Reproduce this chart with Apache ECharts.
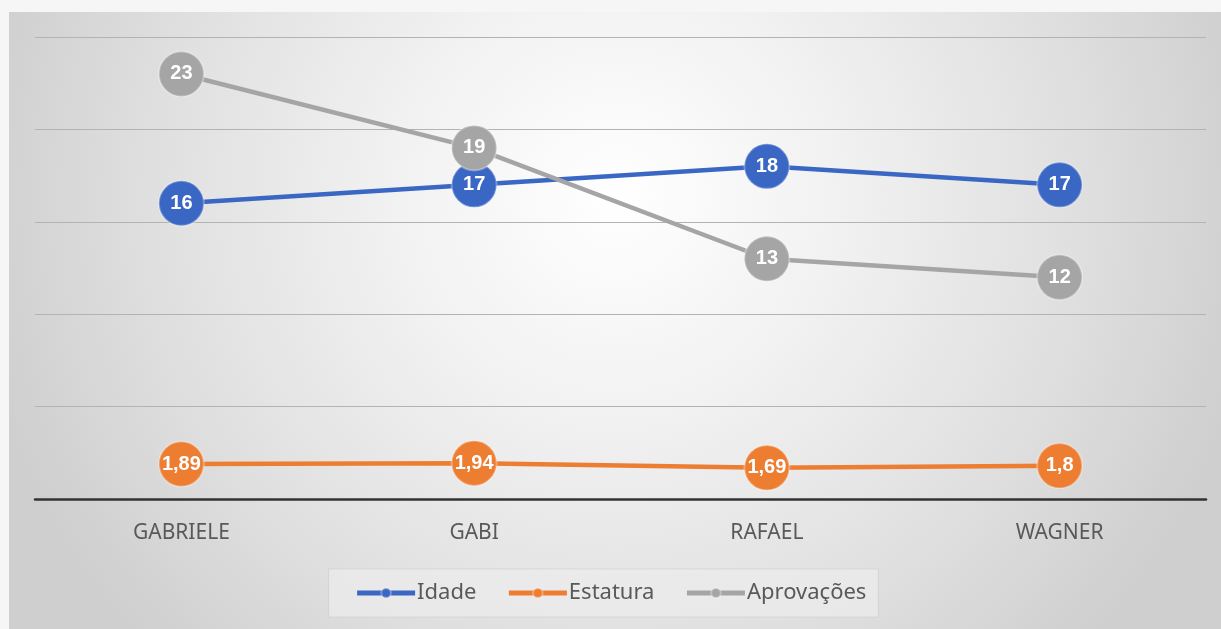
<!DOCTYPE html>
<html>
<head>
<meta charset="utf-8">
<script src="https://cdn.jsdelivr.net/npm/echarts@6/dist/echarts.min.js"></script>
<style>html,body{margin:0;padding:0;background:#f6f6f6;}#c{width:1221px;height:629px;}</style>
</head>
<body>
<div id="c"></div>
<script>
const categories = ['GABRIELE', 'GABI', 'RAFAEL', 'WAGNER'];
const idade = [16, 17, 18, 17];
const estatura = [1.89, 1.94, 1.69, 1.8];
const aprovacoes = [23, 19, 13, 12];
const seriesNames = ['Idade', 'Estatura', 'Aprovações'];
const yTicks = { min: 0, max: 25, interval: 5 };

const chart = echarts.init(document.getElementById('c'));
const fmt = p => String(p.value).replace('.', ',');
function mk(name, data, color) {
  return {
    name: name, type: 'line', data: data,
    symbol: 'circle', symbolSize: 45,
    lineStyle: { color: color, width: 4.5 },
    itemStyle: { color: color, borderColor: 'rgba(255,255,255,0.3)', borderWidth: 2 },
    label: { show: true, position: 'inside', color: '#ffffff', fontSize: 20, fontWeight: 'bold',
      fontFamily: 'Liberation Sans', formatter: fmt },
    emphasis: { disabled: true }
  };
}
chart.setOption({
  animation: false,
  backgroundColor: '#f6f6f6',
  graphic: [{
    type: 'rect', z: -10, silent: true,
    shape: { x: 9, y: 12, width: 1212, height: 617 },
    style: { fill: { type: 'radial', x: 0.5, y: 0.3, r: 1.05,
      colorStops: [{ offset: 0, color: '#ffffff' }, { offset: 0.35, color: '#f1f1f1' },
                   { offset: 0.7, color: '#e0e0e0' }, { offset: 1, color: '#cfcfcf' }] } }
  }],
  grid: { left: 35, right: 15, top: 37, bottom: 130 },
  legend: {
    data: seriesNames, bottom: 12, left: 'center',
    itemWidth: 58, itemHeight: 12, itemGap: 30,
    padding: [13, 12, 13, 26],
    lineStyle: { width: 5 },
    backgroundColor: 'rgba(236,236,236,0.7)',
    borderColor: 'rgba(200,200,200,0.5)', borderWidth: 1,
    textStyle: { color: '#595959', fontSize: 22, fontFamily: 'Noto Sans', padding: [0, 0, 0, -3] },
    selectedMode: false
  },
  xAxis: {
    type: 'category', data: categories, boundaryGap: true,
    axisLine: { lineStyle: { color: '#333333', width: 2.5 } },
    axisTick: { show: false },
    axisLabel: { color: '#595959', fontSize: 21, fontFamily: 'Noto Sans', margin: 24 }
  },
  yAxis: {
    type: 'value', min: yTicks.min, max: yTicks.max, interval: yTicks.interval,
    axisLabel: { show: false }, axisLine: { show: false }, axisTick: { show: false },
    splitLine: { lineStyle: { color: '#b3b3b3', width: 1.2 } }
  },
  series: [
    mk(seriesNames[0], idade, '#3a66c4'),
    mk(seriesNames[1], estatura, '#ed7d31'),
    mk(seriesNames[2], aprovacoes, '#a5a5a5')
  ]
});
</script>
</body>
</html>
